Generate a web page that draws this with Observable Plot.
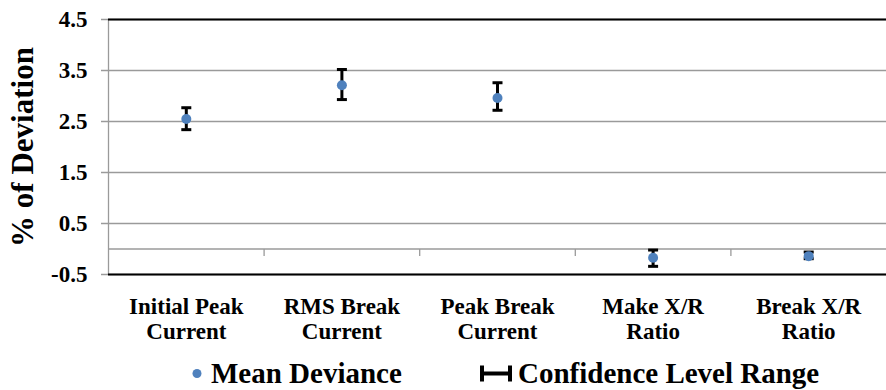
<!DOCTYPE html>
<html>
<head>
<meta charset="utf-8">
<script src="https://cdn.jsdelivr.net/npm/d3@7"></script>
<script src="https://cdn.jsdelivr.net/npm/@observablehq/plot@0.6"></script>
<style>
  body { margin: 0; background: #fff; }
  #chart { width: 886px; }
</style>
</head>
<body>
<div id="chart"></div>
<script>
// Measured quantities and their deviation statistics (%)
const categories = ["Initial Peak\nCurrent", "RMS Break\nCurrent", "Peak Break\nCurrent", "Make X/R\nRatio", "Break X/R\nRatio"];
const meanDeviance = [2.55, 3.21, 2.96, -0.17, -0.14];
const lowerBound = [2.34, 2.93, 2.72, -0.34, -0.19];
const upperBound = [2.77, 3.52, 3.26, -0.02, -0.06];
const yTicks = [-0.5, 0.5, 1.5, 2.5, 3.5, 4.5];
const yTitle = "% of Deviation";
const legendLabels = ["Mean Deviance", "Confidence Level Range"];

const font = "'Liberation Serif', 'Times New Roman', serif";
const blue = "#4F81BD";
const grid = "#9a9a9a";
const baseSize = 32; // nominal type size; labels are scaled down from it

const rows = categories.map((c, i) => ({i, mean: meanDeviance[i], lo: lowerBound[i], hi: upperBound[i]}));
const idx = rows.map(d => d.i);
const boundaries = idx.slice(1).map(i => i - 0.5);

// custom symbols: error-bar cap and category separator tick below the zero line
const capSymbol = {draw(ctx) { ctx.moveTo(-5, 0); ctx.lineTo(5, 0); }};
const dropTick = {draw(ctx) { ctx.moveTo(0, 0); ctx.lineTo(0, 7); }};

const chart = Plot.plot({
  width: 886,
  height: 350,
  marginLeft: 108,
  marginRight: 0,
  marginTop: 19,
  marginBottom: 76,
  x: {domain: [-0.5, 4.5]},
  y: {domain: [-0.5, 4.5]},
  style: {color: "black", background: "white", overflow: "visible", fontFamily: font, fontWeight: "bold"},
  marks: [
    Plot.gridY(yTicks, {stroke: grid, strokeOpacity: 1, strokeWidth: 1.3, insetLeft: -7}),
    Plot.ruleX([-0.5], {stroke: grid, strokeWidth: 1.3}),
    Plot.ruleY([0], {stroke: grid, strokeWidth: 1.3}),
    Plot.dot(boundaries, {x: d => d, y: () => 0, symbol: dropTick, fill: "none", stroke: grid, strokeWidth: 1.3}),
    Plot.ruleY([-0.5, 4.5], {stroke: "black", strokeWidth: 2}),
    Plot.ruleX(rows, {x: "i", y1: "lo", y2: "hi", stroke: "black", strokeWidth: 3}),
    Plot.dot(rows, {x: "i", y: "lo", symbol: capSymbol, fill: "none", stroke: "black", strokeWidth: 3}),
    Plot.dot(rows, {x: "i", y: "hi", symbol: capSymbol, fill: "none", stroke: "black", strokeWidth: 3}),
    Plot.dot(rows, {x: "i", y: "mean", r: 5, fill: blue, stroke: "none"}),
    Plot.axisY(yTicks, {tickSize: 0, tickPadding: 21, fontSize: baseSize, tickFormat: d => d.toFixed(1), label: null}),
    Plot.axisX(idx, {tickSize: 0, tickPadding: 22, fontSize: baseSize, lineHeight: 1.09, tickFormat: i => categories[i], label: null}),
    Plot.text([yTitle], {frameAnchor: "left", text: d => d, rotate: -90, dx: -85, textAnchor: "middle", lineAnchor: "middle", fontSize: 31})
  ]
});
document.getElementById("chart").append(chart);

// tick labels: scale the nominal size down to 23px around each label's anchor
d3.select(chart).selectAll('g[aria-label$="tick label"] text').each(function() {
  const t = this.getAttribute("transform") || "";
  this.setAttribute("transform", `${t} scale(${23 / baseSize})`);
});

// legend below the plot
const leg = d3.create("svg")
  .attr("width", 886).attr("height", 40)
  .style("display", "block")
  .style("font-family", font)
  .style("font-weight", "bold");
leg.append("circle").attr("cx", 197).attr("cy", 23.5).attr("r", 4.5).attr("fill", blue);
leg.append("text").attr("transform", `translate(211,33) scale(${29 / baseSize})`)
  .attr("font-size", baseSize).attr("fill", "black")
  .text(legendLabels[0]);
leg.append("path")
  .attr("d", "M482,23.5H510M482,15.5V31.5M510,15.5V31.5")
  .attr("fill", "none").attr("stroke", "black").attr("stroke-width", 4);
leg.append("text").attr("transform", `translate(518,33) scale(${29 / baseSize})`)
  .attr("font-size", baseSize).attr("fill", "black")
  .text(legendLabels[1]);
document.getElementById("chart").append(leg.node());
</script>
</body>
</html>
